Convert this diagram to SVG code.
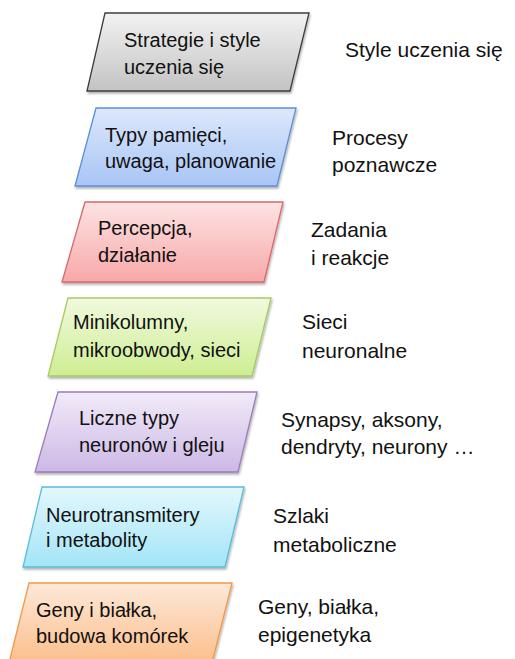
<svg xmlns="http://www.w3.org/2000/svg" width="515" height="659" viewBox="0 0 515 659">
<style>
  .box { stroke-width: 1.3; filter: url(#sh); }
  .bt { font-family: "Liberation Sans", Arial, sans-serif; font-size: 20px; fill: #111; }
  .lt { font-family: "Liberation Sans", Arial, sans-serif; font-size: 21px; fill: #111; }
</style>
<defs>
  <filter id="sh" x="-10%" y="-10%" width="125%" height="130%">
    <feDropShadow dx="1" dy="2" stdDeviation="1.3" flood-color="#000" flood-opacity="0.3"/>
  </filter>
  <linearGradient id="gGray" x1="0" y1="0" x2="0" y2="1"><stop offset="0" stop-color="#f2f2f2"/><stop offset="1" stop-color="#c3c3c3"/></linearGradient>
  <linearGradient id="gBlue" x1="0" y1="0" x2="0" y2="1"><stop offset="0" stop-color="#dde8fb"/><stop offset="1" stop-color="#a8c5f6"/></linearGradient>
  <linearGradient id="gRed" x1="0" y1="0" x2="0" y2="1"><stop offset="0" stop-color="#fde3e3"/><stop offset="1" stop-color="#f8a8a8"/></linearGradient>
  <linearGradient id="gGreen" x1="0" y1="0" x2="0" y2="1"><stop offset="0" stop-color="#f1f9de"/><stop offset="1" stop-color="#cdee92"/></linearGradient>
  <linearGradient id="gPurple" x1="0" y1="0" x2="0" y2="1"><stop offset="0" stop-color="#f1ebf8"/><stop offset="1" stop-color="#cdb8e6"/></linearGradient>
  <linearGradient id="gCyan" x1="0" y1="0" x2="0" y2="1"><stop offset="0" stop-color="#e3f7fd"/><stop offset="1" stop-color="#a3e5f7"/></linearGradient>
  <linearGradient id="gOrange" x1="0" y1="0" x2="0" y2="1"><stop offset="0" stop-color="#fde9d8"/><stop offset="1" stop-color="#fbbf8c"/></linearGradient>
</defs>
<rect width="515" height="659" fill="#fff"/>

<g id="n1">
  <polygon class="box" points="105,13 309,13 290,91 87,91" fill="url(#gGray)" stroke="#3c3c3c"/>
  <text class="bt" x="124" y="47">Strategie i style</text>
  <text class="bt" x="124" y="74">uczenia się</text>
</g>
<g id="n2">
  <polygon class="box" points="96,108 296,108 277,186 75,186" fill="url(#gBlue)" stroke="#5b8fd8"/>
  <text class="bt" x="105" y="142">Typy pamięci,</text>
  <text class="bt" x="105" y="168">uwaga, planowanie</text>
</g>
<g id="n3">
  <polygon class="box" points="85,202 283,202 264,282 62,282" fill="url(#gRed)" stroke="#d8676a"/>
  <text class="bt" x="98" y="235">Percepcja,</text>
  <text class="bt" x="98" y="262">działanie</text>
</g>
<g id="n4">
  <polygon class="box" points="68,298 271,298 252,376 48,376" fill="url(#gGreen)" stroke="#a7cb62"/>
  <text class="bt" x="73" y="329">Minikolumny,</text>
  <text class="bt" x="73" y="357">mikroobwody, sieci</text>
</g>
<g id="n5">
  <polygon class="box" points="58,392 257,392 238,472 35,472" fill="url(#gPurple)" stroke="#9a7cbc"/>
  <text class="bt" x="79" y="425">Liczne typy</text>
  <text class="bt" x="79" y="452">neuronów i gleju</text>
</g>
<g id="n6">
  <polygon class="box" points="42,487 244,487 225,567 23,567" fill="url(#gCyan)" stroke="#58bdd8"/>
  <text class="bt" x="46" y="522">Neurotransmitery</text>
  <text class="bt" x="46" y="547">i metabolity</text>
</g>
<g id="n7">
  <polygon class="box" points="29,583 232,583 212,663 9,663" fill="url(#gOrange)" stroke="#f79646"/>
  <text class="bt" x="36" y="617">Geny i białka,</text>
  <text class="bt" x="36" y="643">budowa komórek</text>
</g>

<g id="labels">
  <text class="lt" x="345" y="57">Style uczenia się</text>
  <text class="lt" x="332" y="145">Procesy</text>
  <text class="lt" x="332" y="172">poznawcze</text>
  <text class="lt" x="311" y="237">Zadania</text>
  <text class="lt" x="311" y="265">i reakcje</text>
  <text class="lt" x="302" y="329">Sieci</text>
  <text class="lt" x="302" y="358">neuronalne</text>
  <text class="lt" x="281" y="427">Synapsy, aksony,</text>
  <text class="lt" x="281" y="454">dendryty, neurony …</text>
  <text class="lt" x="273" y="523">Szlaki</text>
  <text class="lt" x="273" y="552">metaboliczne</text>
  <text class="lt" x="258" y="614">Geny, białka,</text>
  <text class="lt" x="258" y="642">epigenetyka</text>
</g>
</svg>
